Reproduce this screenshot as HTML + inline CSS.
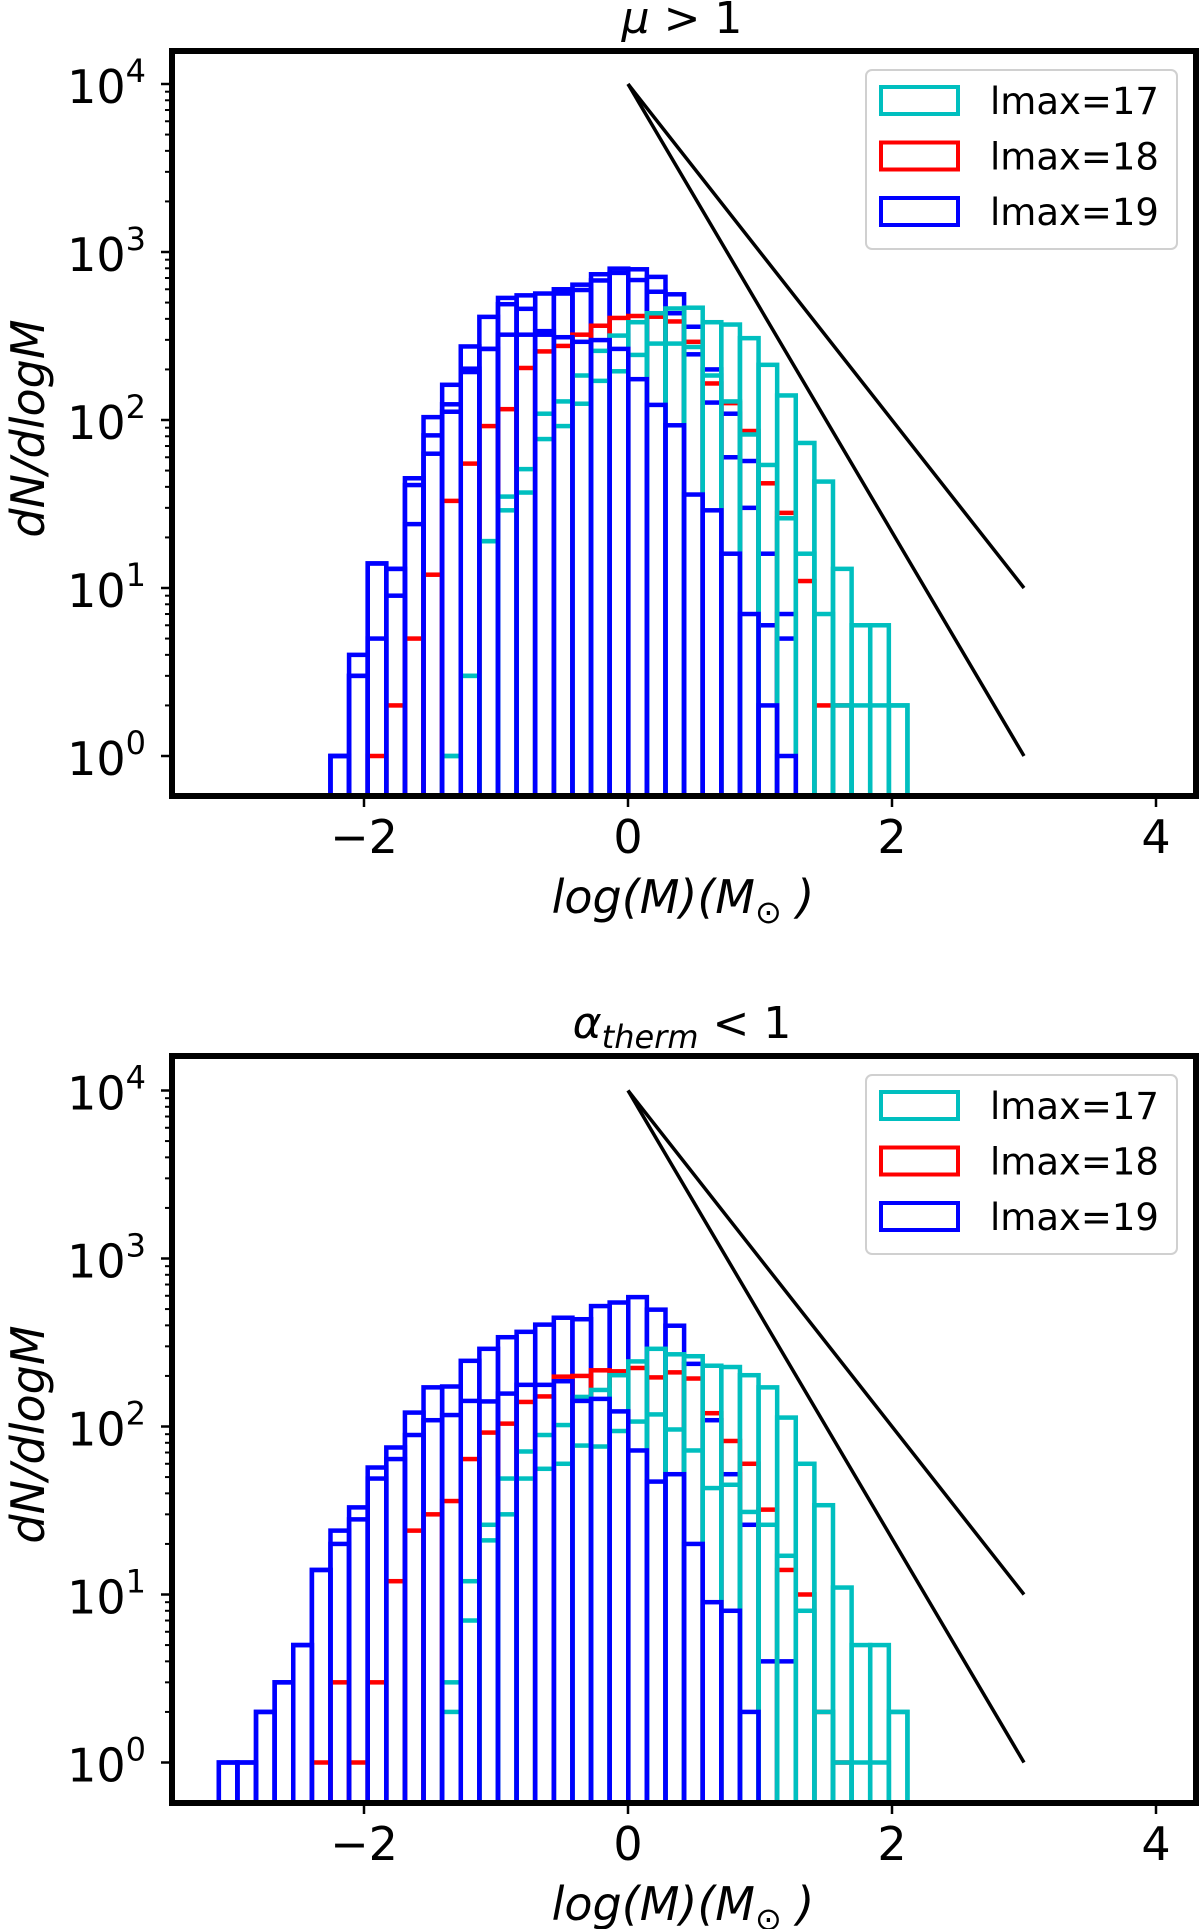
<!DOCTYPE html>
<html><head><meta charset="utf-8"><style>
html,body{margin:0;padding:0;background:#fff;}
svg{display:block;font-family:"DejaVu Sans","Liberation Sans",sans-serif;}
</style></head><body>
<svg id="fig" width="1200" height="1929" viewBox="0 0 1200 1929" xmlns="http://www.w3.org/2000/svg"></svg>
<script>
// ---- shared binning (log M) ----
const binStart = -3.10;
const binWidth = 0.141;
const xTicks = [-2, 0, 2, 4];
const xTickLabels = ["\u22122", "0", "2", "4"];
const yDecades = [0, 1, 2, 3, 4];
const slopeX = [0, 3];
const slopeShallowY = [10000, 10];
const slopeSteepY = [10000, 1];

// ---- top panel (mu > 1) ----
const topCyanAStart = 12;
const topCyanA = [1,3,19,35,51,109,129,184,258,318,382,432,461,466,382,370,307,213,140,73,43,13,6,6,2];
const topCyanBStart = 12;
const topCyanB = [1,3,19,29,37,77,92,125,171,195,244,285,285,272,184,129,82,54,26,16,7,2,2,2,2];
const topRedStart = 8;
const topRed = [1,2,5,12,33,55,92,116,204,256,276,322,364,405,416,412,386,292,165,126,86,42,28,11,2,2];
const topBlueAStart = 6;
const topBlueA = [1,4,14,13,45,104,162,274,411,533,552,566,600,639,737,796,789,711,560,359,200,109,57,16,7];
const topBlueBStart = 6;
const topBlueB = [1,3,14,13,41,81,124,202,265,489,459,338,566,594,677,751,681,580,432,246,127,60,30,6,5];
const topBlueCStart = 6;
const topBlueC = [1,3,5,9,24,63,112,193,265,322,322,322,311,292,299,265,175,123,93,36,29,16,7,2,1];

// ---- bottom panel (alpha_therm < 1) ----
const botCyanAStart = 12;
const botCyanA = [3,12,26,49,71,89,102,150,165,202,244,290,269,262,230,226,202,171,113,60,34,11,5,5,2];
const botCyanBStart = 12;
const botCyanB = [2,7,21,30,49,56,60,77,76,94,107,118,96,72,43,45,31,26,17,8,2,1,1,1,2];
const botRedStart = 5;
const botRed = [1,3,1,3,12,24,30,36,64,92,104,140,151,198,200,216,213,223,196,210,193,120,82,60,32,14,10,2,1];
const botBlueAStart = 0;
const botBlueA = [1,1,2,3,5,14,24,33,57,75,121,171,173,246,290,340,366,404,444,435,521,547,589,496,398,236,109,52,26,4,4];
const botBlueCStart = 0;
const botBlueC = [1,1,2,3,5,14,20,28,49,64,89,109,117,142,141,157,177,177,186,142,146,123,72,47,52,20,9,8,2];

const NS = "http://www.w3.org/2000/svg";
const svg = document.getElementById("fig");
function mk(tag, attrs, parent) {
  const e = document.createElementNS(NS, tag);
  for (const k in attrs) e.setAttribute(k, attrs[k]);
  (parent || svg).appendChild(e);
  return e;
}
const PL = 172, PR = 1196;
function xs(v) { return 628 + 132 * v; }

function panel(id, top, bottom, y0, title, series) {
  const g = mk("g", {});
  
  
  const ys = v => y0 - 168 * Math.log10(v);
  const clipId = id + "-clip";
  const cp = mk("clipPath", {id: clipId}, g);
  mk("rect", {x: PL, y: top, width: PR - PL, height: bottom - top}, cp);
  const hg = mk("g", {"clip-path": "url(#" + clipId + ")"}, g);
  
  
  series.forEach(s => {
    const sg = mk("g", {fill: "none", stroke: s.color, "stroke-width": 4.5}, hg);
    
    
    s.values.forEach((v, i) => {
      const x1 = xs(binStart + (s.start + i) * binWidth);
      const x2 = xs(binStart + (s.start + i + 1) * binWidth);
      const yt = ys(v);
      const r = mk("rect", {x: x1, y: yt, width: x2 - x1, height: bottom + 10 - yt}, sg);
      
      
    });
  });
  [slopeShallowY, slopeSteepY].forEach((arr, k) => {
    const l = mk("line", {x1: xs(slopeX[0]), y1: ys(arr[0]), x2: xs(slopeX[1]), y2: ys(arr[1]), stroke: "#000", "stroke-width": 3.5}, g);
    
    
  });
  const fr = mk("rect", {x: PL, y: top, width: PR - PL, height: bottom - top, fill: "none", stroke: "#000", "stroke-width": 6}, g);
  
  
  yDecades.forEach(d => {
    const y = ys(Math.pow(10, d));
    mk("line", {x1: PL - 11, x2: PL, y1: y, y2: y, stroke: "#000", "stroke-width": 2.5}, g);
    const t = mk("text", {x: 146, y: y + 19, "text-anchor": "end", "font-size": 46}, g);
    
    
    t.textContent = "10";
    const sp = mk("tspan", {"font-size": 32, dy: -21}, t);
    sp.textContent = String(d);
    for (let m = 2; m <= 9; m++) {
      const ym = ys(m * Math.pow(10, d));
      if (ym > top && ym < bottom) mk("line", {x1: PL - 7, x2: PL, y1: ym, y2: ym, stroke: "#000", "stroke-width": 2}, g);
    }
  });
  xTicks.forEach((v, i) => {
    const x = xs(v);
    mk("line", {x1: x, x2: x, y1: bottom, y2: bottom + 11, stroke: "#000", "stroke-width": 2.5}, g);
    const t = mk("text", {x: x, y: bottom + 57, "text-anchor": "middle", "font-size": 46}, g);
    
    
    t.textContent = xTickLabels[i];
  });
  const xl = mk("text", {x: 683, y: bottom + 117, "text-anchor": "middle", "font-size": 46, "font-style": "italic"}, g);
  
  
  xl.textContent = "log(M)(M";
  const sub = mk("tspan", {"font-size": 32, "font-style": "normal", dy: 10}, xl);
  sub.textContent = "\u2299";
  const cl = mk("tspan", {dy: -10}, xl);
  cl.textContent = " )";
  const cy = (top + bottom) / 2 + 5;
  const yl = mk("text", {x: 0, y: 0, transform: "translate(44," + cy + ") rotate(-90)", "text-anchor": "middle", "font-size": 46, "font-style": "italic"}, g);
  
  
  yl.textContent = "dN/dlogM";
  const tt = mk("text", {x: 682, y: top - 18, "text-anchor": "middle", "font-size": 44}, g);
  
  
  title(tt);
  const lg = mk("g", {}, g);
  
  
  const lt = top + 19;
  mk("rect", {x: 866, y: lt, width: 311, height: 179, rx: 6, fill: "#fff", stroke: "#d0d0d0", "stroke-width": 2}, lg);
  [["#00bfbf", "lmax=17"], ["#ff0000", "lmax=18"], ["#0000ff", "lmax=19"]].forEach((e, i) => {
    const eg = mk("g", {}, lg);
    
    
    mk("rect", {x: 881, y: lt + 17 + i * 55.5, width: 77, height: 27, fill: "none", stroke: e[0], "stroke-width": 4}, eg);
    const t = mk("text", {x: 990, y: lt + 44 + i * 55.5, "font-size": 37}, eg);
    t.textContent = e[1];
  });
}

panel("top", 51, 796, 756, t => {
  const a = mk("tspan", {"font-style": "italic"}, t); a.textContent = "\u03BC";
  const b = mk("tspan", {}, t); b.textContent = " > 1";
}, [
  {name: "lmax19-series-a", color: "#0000ff", start: topBlueAStart, values: topBlueA},
  {name: "lmax19-series-b", color: "#0000ff", start: topBlueBStart, values: topBlueB},
  {name: "lmax18-series", color: "#ff0000", start: topRedStart, values: topRed},
  {name: "lmax17-series-a", color: "#00bfbf", start: topCyanAStart, values: topCyanA},
  {name: "lmax17-series-b", color: "#00bfbf", start: topCyanBStart, values: topCyanB},
  {name: "lmax19-series-c", color: "#0000ff", start: topBlueCStart, values: topBlueC}
]);

panel("bottom", 1056, 1803, 1762.5, t => {
  const a = mk("tspan", {"font-style": "italic"}, t); a.textContent = "\u03B1";
  const b = mk("tspan", {"font-style": "italic", "font-size": 32, dy: 10}, t); b.textContent = "therm";
  const c = mk("tspan", {dy: -10}, t); c.textContent = " < 1";
}, [
  {name: "lmax19-series-a", color: "#0000ff", start: botBlueAStart, values: botBlueA},
  {name: "lmax18-series", color: "#ff0000", start: botRedStart, values: botRed},
  {name: "lmax17-series-a", color: "#00bfbf", start: botCyanAStart, values: botCyanA},
  {name: "lmax17-series-b", color: "#00bfbf", start: botCyanBStart, values: botCyanB},
  {name: "lmax19-series-c", color: "#0000ff", start: botBlueCStart, values: botBlueC}
]);
</script>
</body></html>
